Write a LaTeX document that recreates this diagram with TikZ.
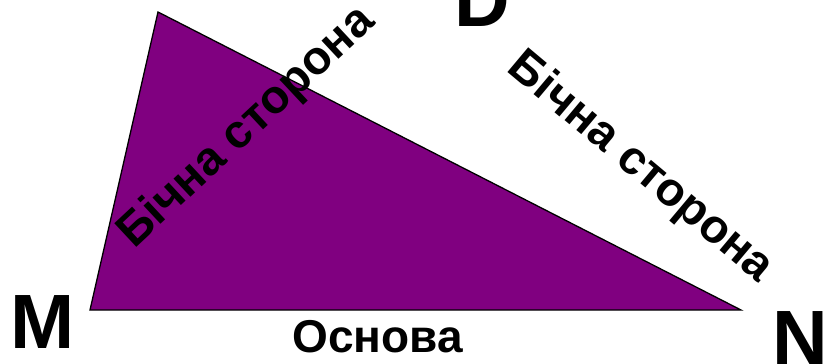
\documentclass[tikz,border=0pt]{standalone}
\usepackage{fontspec}
\setmainfont{Liberation Sans}
\definecolor{tripurple}{HTML}{800080}
\begin{document}
\begin{tikzpicture}[x=1pt,y=-1pt,
  vertexlabel/.style={inner sep=0pt,anchor=base west,font=\bfseries\fontsize{77}{77}\selectfont},
  sidelabel/.style={inner sep=0pt,anchor=center,font=\bfseries\fontsize{47}{47}\selectfont},
  baselabel/.style={inner sep=0pt,anchor=base,font=\bfseries\fontsize{46}{46}\selectfont}]
\useasboundingbox (0,0) rectangle (823,364);
\coordinate (m) at (90,310);
\coordinate (d) at (158,12);
\coordinate (n) at (741,310);
\fill[tripurple] (m) -- (d) -- (n) -- cycle;
\draw[line width=1.3pt,line join=miter] (m) -- (d) -- (n) -- cycle;
\node[vertexlabel] (lm) at (10,348) {M};
\node[vertexlabel] (ln) at (772.4,364) {N};
\node[vertexlabel] (ld) at (454,27) {D};
\node[baselabel] (lb) at (377.5,352) {Основа};
\node[sidelabel,rotate=43] (ls1) at (247,128) {Бічна сторона};
\node[sidelabel,rotate=-40] (ls2) at (640,168) {Бічна сторона};
\end{tikzpicture}
\end{document}
